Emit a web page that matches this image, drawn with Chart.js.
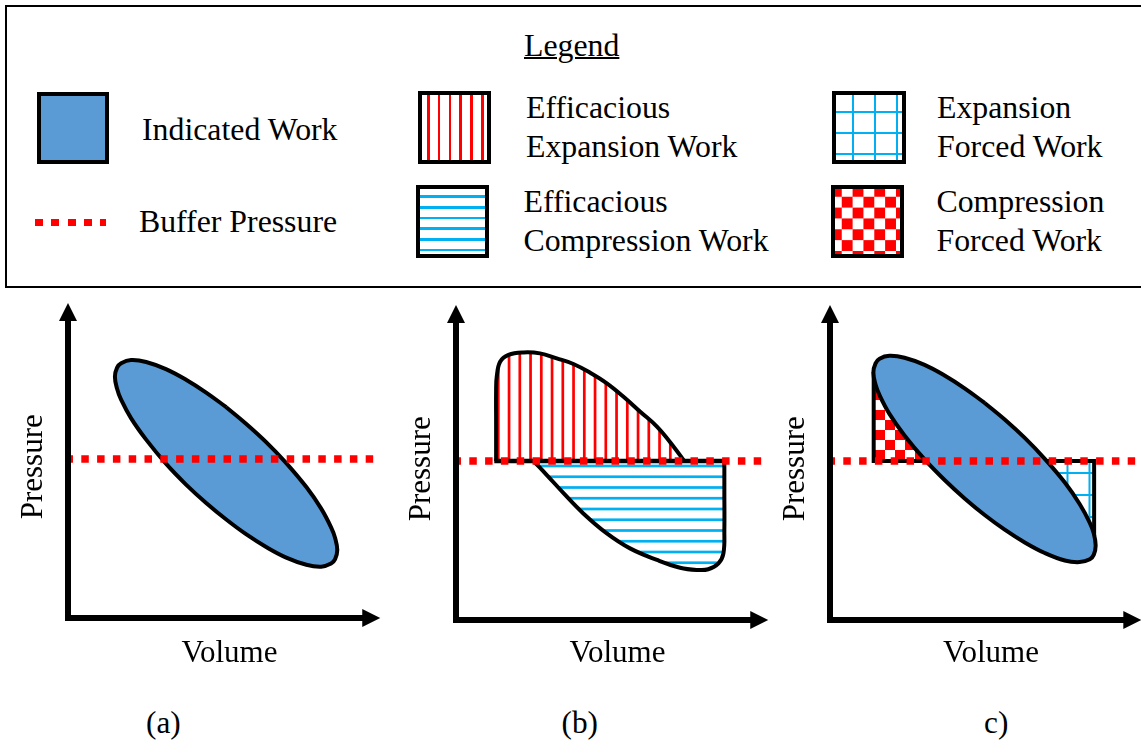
<!DOCTYPE html>
<html>
<head>
<meta charset="utf-8">
<script src="https://cdn.jsdelivr.net/npm/chart.js@4.4.1/dist/chart.umd.min.js"></script>
<style>
html, body { margin: 0; padding: 0; background: #fff; }
body { width: 1141px; height: 744px; position: relative; overflow: hidden;
       font-family: 'Liberation Serif', 'Times New Roman', serif; color: #000; }
.t { position: absolute; font-size: 31.8px; line-height: 39.4px; white-space: nowrap; }
.b { position: absolute; font-size: 31.3px; line-height: 39.4px; white-space: nowrap; }
.sw { position: absolute; box-sizing: border-box; border: 4px solid #000; }
canvas { position: absolute; }
</style>
</head>
<body>
<div style="position:absolute;left:5px;top:5px;width:1170px;height:279px;border:2px solid #000;"></div>

<div class="t" style="left:524px;top:26.2px;text-decoration:underline;text-decoration-thickness:1.5px;">Legend</div>

<div class="sw" style="left:37px;top:92px;width:72px;height:72px;background:#5B9BD5;"></div>
<div class="t" style="left:142px;top:109.5px;">Indicated Work</div>

<div style="position:absolute;left:35px;top:218.5px;width:71px;height:7.5px;background:repeating-linear-gradient(90deg,#ff0000 0 8px,transparent 8px 16.3px);"></div>
<div class="t" style="left:139px;top:201.8px;">Buffer Pressure</div>

<div class="sw" style="left:418px;top:91px;width:73px;height:73px;background:repeating-linear-gradient(90deg,#fff 0 5px,#ff0000 5px 7.6px,#fff 7.6px 10.8px);"></div>
<div class="t" style="left:526px;top:87.8px;">Efficacious<br>Expansion Work</div>

<div class="sw" style="left:416px;top:185px;width:73px;height:73px;background:repeating-linear-gradient(180deg,#fff 0 6.4px,#00B0F0 6.4px 9px,#fff 9px 10.7px);"></div>
<div class="t" style="left:523.5px;top:181.8px;">Efficacious<br>Compression Work</div>

<div class="sw" style="left:832px;top:91px;width:74px;height:73px;background:repeating-linear-gradient(90deg,transparent 0 16.2px,#00B0F0 16.2px 18.4px,transparent 18.4px 21.7px),repeating-linear-gradient(180deg,transparent 0 15.6px,#00B0F0 15.6px 17.8px,transparent 17.8px 21.2px),#fff;"></div>
<div class="t" style="left:937px;top:87.8px;">Expansion<br>Forced Work</div>

<div class="sw" style="left:831px;top:185px;width:73px;height:73px;background:repeating-conic-gradient(#fff 0 25%,#ff0000 0 50%) -4.1px -3.1px / 21.7px 21.7px;"></div>
<div class="t" style="left:936.5px;top:181.8px;">Compression<br>Forced Work</div>

<canvas id="ca" width="390" height="400" style="left:0;top:290px;"></canvas>
<canvas id="cb" width="390" height="400" style="left:390px;top:290px;"></canvas>
<canvas id="cc" width="380" height="400" style="left:770px;top:290px;"></canvas>

<div class="b" id="la" style="left:146px;top:702.8px;"></div>
<div class="b" id="lb" style="left:561.5px;top:702.8px;"></div>
<div class="b" id="lc" style="left:984px;top:702.8px;"></div>

<script>
// ---------------- data ----------------
const panelLabels = ['(a)', '(b)', 'c)'];
const axisTitleX = 'Volume';
const axisTitleY = 'Pressure';
const volumeAxis = { min: 0, max: 10.25, origin: 0, arrow: 10 };
const pressureAxis = { min: -0.5, max: 10, origin: 0, arrow: 10 };

const bufferPressure = 5.0;
const bufferVolumeStart = 0;
const bufferVolumeEnd = [9.8, 9.8, 9.9];

// (a) indicated work loop
const loopA_V = [5.02, 5.66, 6.31, 6.96, 7.61, 8.09, 8.41, 8.54, 8.61, 8.54, 8.41, 8.09, 7.61, 6.96, 6.31, 5.66, 5.02,
                 4.37, 3.72, 3.07, 2.43, 1.94, 1.62, 1.49, 1.42, 1.49, 1.62, 1.94, 2.43, 3.07, 3.72, 4.37, 5.02];
const loopA_P = [6.66, 6.13, 5.54, 4.87, 4.10, 3.41, 2.81, 2.47, 2.08, 1.79, 1.65, 1.55, 1.61, 1.84, 2.18, 2.59, 3.06,
                 3.59, 4.18, 4.85, 5.62, 6.31, 6.90, 7.25, 7.64, 7.93, 8.07, 8.17, 8.11, 7.88, 7.54, 7.13, 6.66];

// (b) efficacious expansion work (above buffer) and efficacious compression work (below buffer)
const expansionB_V = [1.20, 1.20, 1.20, 1.22, 1.33, 1.60, 2.08, 2.62, 3.16, 3.70, 4.24, 4.78, 5.32, 5.86, 6.40, 6.94, 7.28];
const expansionB_P = [5.00, 6.21, 7.28, 7.70, 8.18, 8.40, 8.48, 8.45, 8.29, 8.11, 7.83, 7.49, 7.06, 6.58, 6.10, 5.46, 5.00];
const compressionB_V = [2.41, 2.84, 3.38, 4.02, 4.78, 5.53, 6.40, 7.15, 7.69, 8.06, 8.39, 8.55, 8.58, 8.58, 8.58];
const compressionB_P = [5.00, 4.55, 3.97, 3.32, 2.68, 2.20, 1.83, 1.58, 1.51, 1.53, 1.72, 2.04, 2.79, 4.07, 5.00];
const baselineB_V = [1.14, 8.65];
const baselineB_P = [5.00, 5.00];

// (c) indicated work loop with forced work regions
const loopC_V = [4.92, 5.57, 6.22, 6.87, 7.52, 8.00, 8.33, 8.46, 8.52, 8.46, 8.33, 8.00, 7.52, 6.87, 6.22, 5.57, 4.92,
                 4.27, 3.62, 2.97, 2.32, 1.83, 1.51, 1.38, 1.31, 1.38, 1.51, 1.83, 2.32, 2.97, 3.62, 4.27, 4.92];
const loopC_P = [6.86, 6.33, 5.74, 5.07, 4.31, 3.62, 3.02, 2.68, 2.29, 2.00, 1.85, 1.76, 1.81, 2.05, 2.39, 2.80, 3.27,
                 3.80, 4.39, 5.05, 5.82, 6.51, 7.11, 7.45, 7.84, 8.13, 8.28, 8.37, 8.31, 8.08, 7.74, 7.33, 6.86];
const compForcedC_V = [1.32, 1.32, 2.95];
const compForcedC_P = [7.85, 5.00, 5.00];
const expForcedC_V = [6.92, 8.47, 8.47];
const expForcedC_P = [5.00, 5.00, 2.60];

// ---------------- styling / helpers ----------------
const serif = "'Liberation Serif', 'Times New Roman', serif";
Chart.defaults.font.family = serif;
const RED = '#ff0000', BLUE_LINE = '#00B0F0', WORK_FILL = '#5B9BD5';

document.getElementById('la').textContent = panelLabels[0];
document.getElementById('lb').textContent = panelLabels[1];
document.getElementById('lc').textContent = panelLabels[2];

function pts(V, P) { return V.map((v, i) => ({ x: v, y: P[i] })); }

function stripePattern(ctx, tile, period, offset, lineW, color, vertical) {
  const c = document.createElement('canvas'); c.width = tile; c.height = tile;
  const g = c.getContext('2d');
  g.fillStyle = '#fff'; g.fillRect(0, 0, tile, tile);
  g.fillStyle = color;
  for (let p = offset - period; p < tile + period; p += period) {
    if (vertical) g.fillRect(p - lineW / 2, 0, lineW, tile);
    else g.fillRect(0, p - lineW / 2, tile, lineW);
  }
  return ctx.createPattern(c, 'repeat');
}
function gridPattern(ctx, tile, ox, oy, lineW, color) {
  const c = document.createElement('canvas'); c.width = tile; c.height = tile;
  const g = c.getContext('2d');
  g.fillStyle = '#fff'; g.fillRect(0, 0, tile, tile);
  g.fillStyle = color;
  g.fillRect(ox - lineW / 2, 0, lineW, tile);
  g.fillRect(0, oy - lineW / 2, tile, lineW);
  return ctx.createPattern(c, 'repeat');
}
function checkerPattern(ctx, tile, ox, oy, color) {
  const c = document.createElement('canvas'); c.width = tile; c.height = tile;
  const g = c.getContext('2d');
  const s = tile / 2;
  g.fillStyle = '#fff'; g.fillRect(0, 0, tile, tile);
  g.fillStyle = color;
  for (let i = -2; i <= 2; i++) for (let j = -2; j <= 2; j++) {
    if (((i + j) & 1) === 0) g.fillRect(ox + i * s, oy + j * s, s, s);
  }
  return ctx.createPattern(c, 'repeat');
}

// draws the two axes (at the origin value) with arrow heads, using the chart's own scales
const axisArrows = {
  id: 'axisArrows',
  afterDraw(chart) {
    const { ctx, scales: { x, y } } = chart;
    const x0 = x.getPixelForValue(volumeAxis.origin), x1 = x.getPixelForValue(volumeAxis.arrow);
    const y0 = y.getPixelForValue(pressureAxis.origin), y1 = y.getPixelForValue(pressureAxis.arrow);
    const w = 6, head = 18, half = 9;
    const ax = x0 - w / 2, ay = y0 + w / 2;
    ctx.save();
    ctx.fillStyle = '#000';
    ctx.fillRect(ax - w / 2, y1 + head - 1, w, (ay + w / 2) - (y1 + head - 1));
    ctx.fillRect(ax - w / 2, ay - w / 2, (x1 - head + 1) - (ax - w / 2), w);
    ctx.beginPath(); ctx.moveTo(ax, y1); ctx.lineTo(ax - half, y1 + head); ctx.lineTo(ax + half, y1 + head); ctx.closePath(); ctx.fill();
    ctx.beginPath(); ctx.moveTo(x1, ay); ctx.lineTo(x1 - head, ay - half); ctx.lineTo(x1 - head, ay + half); ctx.closePath(); ctx.fill();
    ctx.restore();
  }
};

function bufferDataset(i) {
  return {
    label: 'Buffer Pressure',
    data: pts([bufferVolumeStart, bufferVolumeEnd[i]], [bufferPressure, bufferPressure]),
    borderColor: RED, borderWidth: 7.5, borderDash: [7.5, 8.3], borderDashOffset: 5.5,
    pointRadius: 0, fill: false, tension: 0, order: 0
  };
}
const outline = { borderColor: '#000', borderWidth: 4, pointRadius: 0, borderJoinStyle: 'round' };

function makeChart(id, lay, datasets) {
  const titleFont = { size: 31, family: serif };
  return new Chart(document.getElementById(id), {
    type: 'line',
    data: { datasets },
    options: {
      responsive: false, animation: false, events: [],
      layout: { padding: lay.padding },
      plugins: { legend: { display: false }, tooltip: { enabled: false } },
      scales: {
        x: {
          type: 'linear', min: volumeAxis.min, max: volumeAxis.max,
          grid: { display: false }, border: { display: false }, ticks: { display: false },
          title: { display: true, text: axisTitleX, color: '#000', font: titleFont, padding: 0 },
          afterFit: (s) => { s.height = lay.xh; }
        },
        y: {
          type: 'linear', min: pressureAxis.min, max: pressureAxis.max,
          grid: { display: false }, border: { display: false }, ticks: { display: false },
          title: { display: true, text: axisTitleY, color: '#000', font: titleFont, padding: 0 },
          afterFit: (s) => { s.width = lay.yw; }
        }
      }
    },
    plugins: [axisArrows]
  });
}

// ---------------- panel (a) ----------------
makeChart('ca', { padding: { left: 15, right: 2, top: 13, bottom: 18 }, xh: 41.4, yw: 56 }, [
  bufferDataset(0),
  Object.assign({ label: 'Indicated Work', data: pts(loopA_V, loopA_P), backgroundColor: WORK_FILL,
                  fill: 'shape', tension: 0.4, order: 1 }, outline)
]);

// ---------------- panel (b) ----------------
const ctxB = document.getElementById('cb').getContext('2d');
makeChart('cb', { padding: { left: 13, right: 4, top: 15, bottom: 18 }, xh: 39.4, yw: 56 }, [
  bufferDataset(1),
  { label: 'boundary', data: pts(baselineB_V, baselineB_P), borderColor: '#000', borderWidth: 4.5,
    pointRadius: 0, fill: false, tension: 0, order: 1 },
  Object.assign({ label: 'Efficacious Expansion Work', data: pts(expansionB_V, expansionB_P),
                  backgroundColor: stripePattern(ctxB, 43, 10.75, 0.8, 2.7, RED, true),
                  fill: 'shape', tension: 0.4, order: 2 }, outline),
  Object.assign({ label: 'Efficacious Compression Work', data: pts(compressionB_V, compressionB_P),
                  backgroundColor: stripePattern(ctxB, 43, 10.75, 4, 2.7, BLUE_LINE, false),
                  fill: 'shape', tension: 0.4, order: 2 }, outline)
]);

// ---------------- panel (c) ----------------
const ctxC = document.getElementById('cc').getContext('2d');
makeChart('cc', { padding: { left: 7, right: 1, top: 15, bottom: 18 }, xh: 39.4, yw: 56 }, [
  bufferDataset(2),
  Object.assign({ label: 'Indicated Work', data: pts(loopC_V, loopC_P), backgroundColor: WORK_FILL,
                  fill: 'shape', tension: 0.4, order: 1 }, outline),
  Object.assign({ label: 'Compression Forced Work', data: pts(compForcedC_V, compForcedC_P),
                  backgroundColor: checkerPattern(ctxC, 20, 5, 0, RED),
                  fill: 'shape', tension: 0, order: 2 }, outline, { borderJoinStyle: 'miter' }),
  Object.assign({ label: 'Expansion Forced Work', data: pts(expForcedC_V, expForcedC_P),
                  backgroundColor: gridPattern(ctxC, 22, 11.5, 7, 2, BLUE_LINE),
                  fill: 'shape', tension: 0, order: 2 }, outline, { borderJoinStyle: 'miter' })
]);
</script>
</body>
</html>
